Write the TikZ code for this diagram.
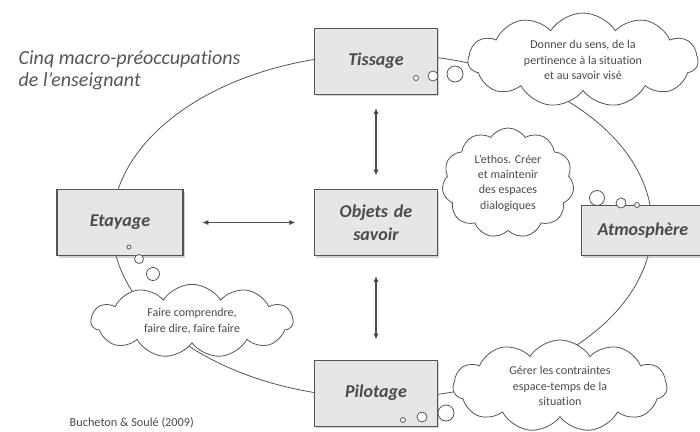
\documentclass[tikz,border=0pt]{standalone}
\usepackage{fontspec}
\setmainfont{Carlito}[Ligatures={TeX,NoCommon}]
\usetikzlibrary{shapes, shapes.symbols, shadows, arrows.meta}
\definecolor{boxgray}{HTML}{E6E6E6}
\definecolor{linegray}{HTML}{555555}
\definecolor{textgray}{HTML}{4A4A4A}

\begin{document}
\begin{tikzpicture}[x=0.75pt, y=-0.75pt]
			\tikzstyle{box}=[
			draw=linegray,
			line width=0.9pt,
			fill=boxgray,
			rectangle,
			text centered,
			text width=84pt,
			minimum width=92pt,
			minimum height=49.5pt,
			drop shadow={shadow xshift=1.2pt, shadow yshift=-1.6pt, opacity=0.35},
			text=textgray,
			font=\fontsize{13.5}{17.5}\selectfont\bfseries\itshape]
			\tikzstyle{thought}=[
			draw=linegray,
			line width=0.6pt,
			fill=white,
			cloud,
			cloud puffs=11,
			cloud puff arc=115,
			inner sep=0pt,
			align=center,
			text=textgray,
			font=\fontsize{9}{11.5}\selectfont]
			\tikzstyle{bubble}=[draw=linegray, line width=0.6pt, fill=white]
			\tikzstyle{link}=[{Latex[length=4.5pt,width=4pt]}-{Latex[length=4.5pt,width=4pt]},
			line width=1.1pt, draw=linegray!90!black]
			%
			\useasboundingbox (0,0) rectangle (700,432);
			\clip (0,0) rectangle (700,432);
			\draw[linegray, line width=0.6pt] (382,226) ellipse (270 and 172);
			%
			\node[box] (obj) at (376,222.5) {Objets de\\savoir};
			\node[box, above of=obj, node distance=121pt] (tis) {Tissage};
			\node[box, below of=obj, node distance=128pt] (pil) {Pilotage};
			\node[box, left of=obj, node distance=192pt, minimum width=94.5pt] (eta) {Etayage};
			\node[box, minimum height=38pt] (atm) at (643,230.5) {Atmosphère};
			%
			\foreach \x/\y/\r in {416/78/2.5, 433/76/5, 455/74/8,
				129/247/2, 139/259/4.5, 153/274/6.5,
				597/198/7.5, 621/203/5, 637/205/2.5,
				403/420/2.5, 422/417/5, 446/413/8}
				\draw[bubble] (\x,\y) circle (\r*0.75pt);
			%
			\node[thought, minimum width=172.5pt, minimum height=70.5pt, aspect=2.45] (c_tis) at (583,60)
				{Donner du sens, de la\\pertinence à la situation\\et au savoir visé};
			\node[thought, minimum width=99pt, minimum height=82.5pt, aspect=1.2] (c_atm) at (508,183)
				{L’ethos. Créer\\et maintenir\\des espaces\\dialogiques};
			\node[thought, minimum width=151.5pt, minimum height=55pt, aspect=2.77] (c_eta) at (192,321)
				{Faire comprendre,\\faire dire, faire faire};
			\node[thought, minimum width=160.5pt, minimum height=69pt, aspect=2.3] (c_pil) at (560,386)
				{Gérer les contraintes\\espace-temps de la\\situation};
			%
			\path [link, shorten <=10pt, shorten >=10pt] (tis) edge (obj);
			\path [link, shorten <=14pt, shorten >=14pt] (eta) edge (obj);
			\path [link, shorten <=15pt, shorten >=15pt] (obj) edge (pil);
			%
			\node[anchor=north west, align=left, text=linegray,
				font=\fontsize{15}{16.5}\selectfont\itshape] (title) at (14,46)
				{Cinq macro-préoccupations\\de l'enseignant};
			\node[anchor=base west, text=textgray, font=\fontsize{9.2}{11}\selectfont] (ref) at (65,426)
				{Bucheton \& Soulé (2009)};
		\end{tikzpicture}
\end{document}
